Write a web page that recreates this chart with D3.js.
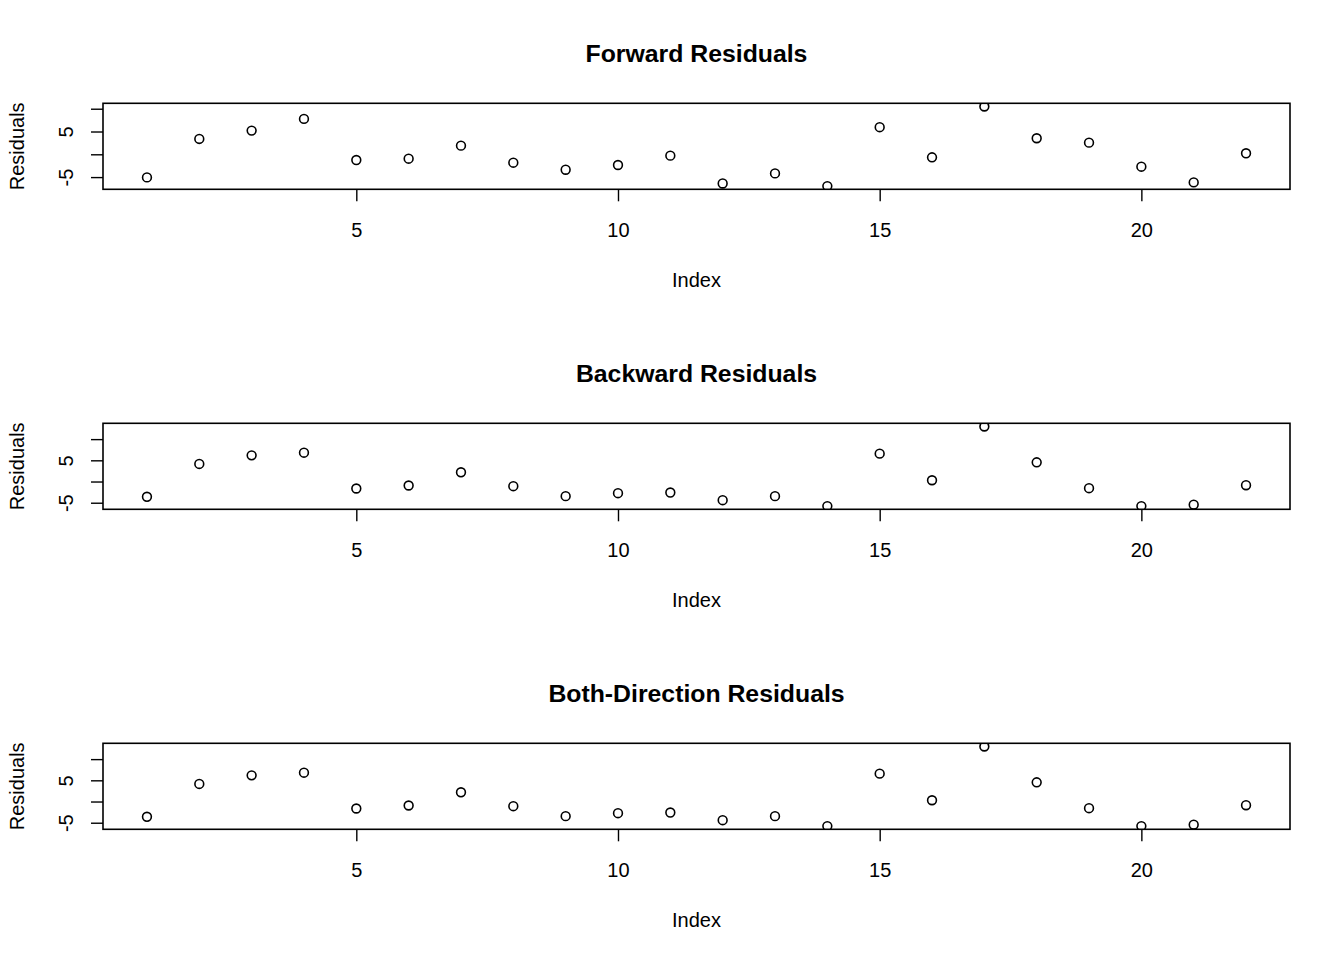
<!DOCTYPE html>
<html><head><meta charset="utf-8">
<script src="https://cdn.jsdelivr.net/npm/d3@7"></script>
<style>body{margin:0;background:#fff}svg{display:block}</style>
</head><body>
<script>
const indexValues = d3.range(1, 23);
const forwardResiduals = [-5.07, 3.37, 5.2, 7.77, -1.26, -0.96, 1.9, -1.84, -3.38, -2.35, -0.3, -6.4, -4.19, -6.98, 5.95, -0.66, 10.49, 3.52, 2.56, -2.72, -6.17, 0.22];
const backwardResiduals = [-3.6, 4.15, 6.17, 6.8, -1.64, -0.94, 2.18, -1.1, -3.45, -2.75, -2.6, -4.4, -3.45, -5.8, 6.57, 0.3, 12.98, 4.53, -1.57, -5.8, -5.47, -0.87];
const bothResiduals = [-3.6, 4.15, 6.17, 6.8, -1.64, -0.94, 2.18, -1.1, -3.45, -2.75, -2.6, -4.4, -3.45, -5.8, 6.57, 0.3, 12.98, 4.53, -1.57, -5.8, -5.47, -0.87];
const panelTitles = ["Forward Residuals", "Backward Residuals", "Both-Direction Residuals"];
const xTicks = [5, 10, 15, 20];
const yTicks = [-5, 0, 5, 10];
const yTickLabels = ["-5", "", "5", ""];
const xLabel = "Index";
const yLabel = "Residuals";

const W = 1344, H = 960;
const svg = d3.select("body").append("svg").attr("width", W).attr("height", H);
const font = "'Liberation Sans', Arial, sans-serif";
const L = 103, R = 1290, panelH = 320, top0 = 103.3, boxH = 86;

const x = d3.scaleLinear().domain([0.16, 22.84]).range([L, R]);
const series = [forwardResiduals, backwardResiduals, bothResiduals];

series.forEach((vals, i) => {
  const oy = i * panelH;
  const bt = top0 + oy, bb = bt + boxH;
  const [mn, mx] = d3.extent(vals);
  const pad = (mx - mn) * 0.04;
  const y = d3.scaleLinear().domain([mn - pad, mx + pad]).range([bb, bt]);
  const g = svg.append("g");

  g.append("clipPath").attr("id", "clip" + i).append("rect")
    .attr("x", L).attr("y", bt).attr("width", R - L).attr("height", boxH);

  // title
  g.append("text").attr("x", (L + R) / 2).attr("y", 61.5 + oy)
    .attr("text-anchor", "middle").attr("font-family", font)
    .attr("font-weight", "bold").attr("font-size", 24.8).text(panelTitles[i]);

  // x axis
  const xa = g.append("g").attr("transform", `translate(0,${bb})`)
    .call(d3.axisBottom(x).tickValues(xTicks).tickSize(12).tickPadding(0).tickFormat(d3.format("d")));
  xa.select(".domain").remove();
  xa.selectAll(".tick line").attr("stroke", "#000").attr("stroke-width", 1.4);
  xa.selectAll(".tick text").attr("y", 0).attr("dy", 0)
    .attr("transform", `translate(0,${237 + oy - bb})`)
    .attr("font-family", font).attr("font-size", 20).attr("fill", "#000");

  // y axis
  const ya = g.append("g").attr("transform", `translate(${L},0)`)
    .call(d3.axisLeft(y).tickValues(yTicks).tickSize(12).tickFormat((d, k) => yTickLabels[k]));
  ya.select(".domain").remove();
  ya.selectAll(".tick line").attr("stroke", "#000").attr("stroke-width", 1.4);
  ya.selectAll(".tick text").attr("x", null).attr("dy", null)
    .attr("transform", `translate(${73 - L},0) rotate(-90)`)
    .attr("text-anchor", "middle").attr("font-family", font).attr("font-size", 20).attr("fill", "#000");

  // axis labels
  g.append("text").attr("x", (L + R) / 2).attr("y", 287 + oy)
    .attr("text-anchor", "middle").attr("font-family", font).attr("font-size", 20).text(xLabel);
  g.append("text").attr("transform", `translate(24,${(bt + bb) / 2}) rotate(-90)`)
    .attr("text-anchor", "middle").attr("font-family", font).attr("font-size", 20).text(yLabel);

  // points
  g.append("g").attr("clip-path", `url(#clip${i})`).selectAll("circle").data(vals).join("circle")
    .attr("cx", (d, k) => x(indexValues[k])).attr("cy", d => y(d)).attr("r", 4.4)
    .attr("fill", "none").attr("stroke", "#000").attr("stroke-width", 1.6);

  // box
  g.append("rect").attr("x", L).attr("y", bt).attr("width", R - L).attr("height", boxH)
    .attr("fill", "none").attr("stroke", "#000").attr("stroke-width", 1.6);
});
</script>
</body></html>
